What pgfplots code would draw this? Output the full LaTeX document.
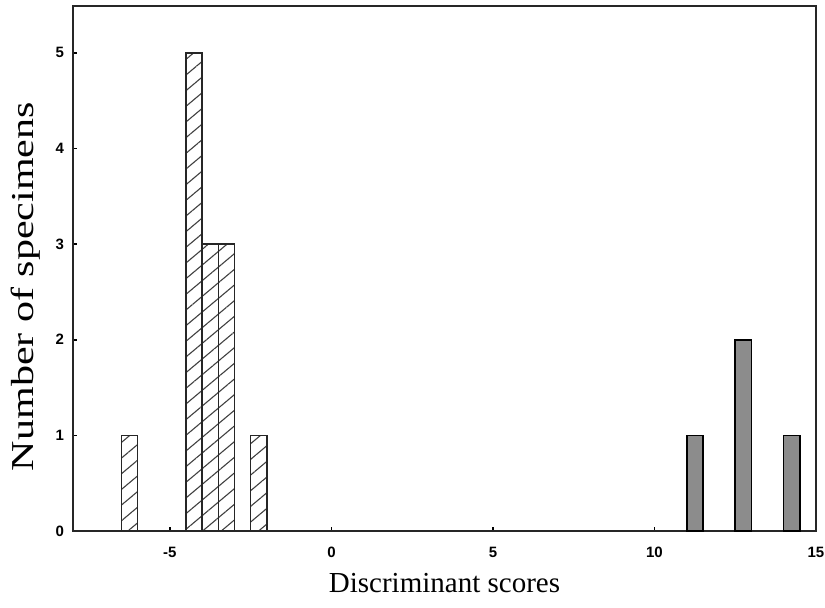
\documentclass[border=0pt]{standalone}
\usepackage{fontspec}
\setmainfont{Liberation Serif}
\newfontfamily\ticksfont{Liberation Sans}
\usepackage{graphicx}
\usepackage{pgfplots}
\pgfplotsset{compat=1.18}
\usetikzlibrary{patterns.meta}

\begin{document}
\begin{tikzpicture}
\useasboundingbox (-36.5pt,-38pt) rectangle (376pt,265.5pt);
\begin{axis}[
  at={(0,0)}, anchor=south west,
  scale only axis, width=371.5pt, height=262.5pt,
  xmin=-8, xmax=15, ymin=0, ymax=5.49,
  xtick={-5,0,5,10,15}, ytick={0,1,2,3,4,5},
  tick align=inside, xtick pos=bottom, ytick pos=left,
  major tick length=2pt,
  axis line style={line width=1pt, black!85},
  tick style={line width=0.8pt, black},
  ticklabel style={font=\ticksfont\bfseries\fontsize{7.5}{9}\selectfont},
  /pgf/number format/assume math mode=true,
  xticklabel style={yshift=-4.5pt},
  yticklabel style={xshift=-1pt},
  xlabel={Discriminant scores},
  ylabel={\scalebox{1.45}[1.1]{Number of specimens}},
  label style={font=\fontsize{14.5}{16}\selectfont},
  xlabel style={at={(axis description cs:0.5,0)}, anchor=center, yshift=-26pt},
  ylabel style={at={(axis description cs:0,0.5)}, anchor=center, yshift=23.5pt, xshift=-9pt},
]
\addplot[ybar, bar width=0.5, bar shift=0pt, draw=black!85, line width=0.8pt,
  pattern={Lines[angle=40,distance=6pt,line width=0.55pt]}, pattern color=black!75]
  coordinates {(-6.25,1) (-4.25,5) (-3.75,3) (-3.25,3) (-2.25,1)};
\addplot[ybar, bar width=0.5, bar shift=0pt, draw=black, line width=0.8pt, fill=black!45]
  coordinates {(11.25,1) (12.75,2) (14.25,1)};
\end{axis}
\end{tikzpicture}
\end{document}
